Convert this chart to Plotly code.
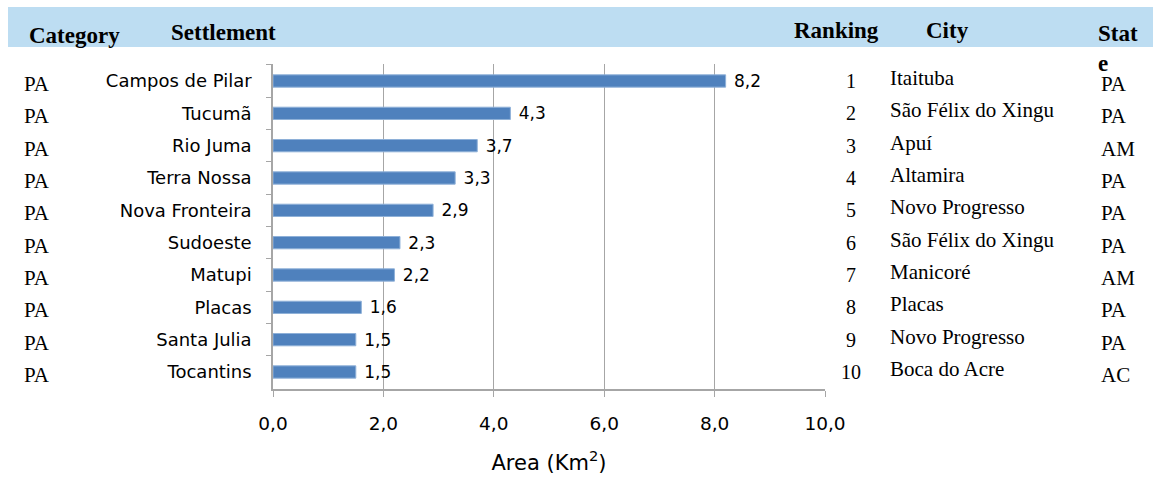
import plotly.graph_objects as go

settlements = ["Campos de Pilar", "Tucumã", "Rio Juma", "Terra Nossa", "Nova Fronteira",
               "Sudoeste", "Matupi", "Placas", "Santa Julia", "Tocantins"]
areas = [8.2, 4.3, 3.7, 3.3, 2.9, 2.3, 2.2, 1.6, 1.5, 1.5]
categories = ["PA"] * 10
rankings = [str(i) for i in range(1, 11)]
cities = ["Itaituba", "São Félix do Xingu", "Apuí", "Altamira", "Novo Progresso",
          "São Félix do Xingu", "Manicoré", "Placas", "Novo Progresso", "Boca do Acre"]
states = ["PA", "PA", "AM", "PA", "PA", "PA", "AM", "PA", "PA", "AC"]
x_ticks = [0, 2, 4, 6, 8, 10]
headers = ["Category", "Settlement", "Ranking", "City", "Stat<br>e"]

W, H = 1153, 478
L, R, T, B = 273, 825, 64, 389


def px_x(p):
    return (p - L) / (R - L)


def px_y(p):
    return (B - p) / (B - T)


sans = "DejaVu Sans"
serif = "Liberation Serif"

fig = go.Figure(go.Bar(
    x=areas, y=settlements, orientation="h",
    marker=dict(color="#4F81BD", line=dict(color="#8EB0D8", width=1)),
    texttemplate=" %{x:.1f}", textposition="outside", constraintext="none",
    textfont=dict(family=sans, size=17, color="#000000"),
    cliponaxis=False, width=0.38,
))

fig.update_layout(
    width=W, height=H, separators=", ",
    margin=dict(l=L, r=W - R, t=T, b=H - B),
    plot_bgcolor="white", paper_bgcolor="white",
    showlegend=False,
    font=dict(family=sans, size=16, color="#000000"),
)
fig.update_xaxes(
    range=[0, 10], tickvals=x_ticks, tickformat=".1f", automargin=False,
    showgrid=True, gridcolor="#A6A6A6", gridwidth=1.3,
    showline=True, linecolor="#A6A6A6", linewidth=1.5,
    ticks="outside", ticklen=6, tickcolor="#A6A6A6",
    ticklabelstandoff=11, tickfont=dict(family=sans, size=18.5),
    title=dict(text="Area (Km<sup>2</sup>)", font=dict(family=sans, size=21), standoff=22),
    zeroline=False,
)
fig.update_yaxes(
    autorange="reversed", type="category", tickson="boundaries", automargin=False,
    showline=True, linecolor="#A6A6A6", linewidth=1.5,
    ticks="outside", ticklen=5, tickcolor="#A6A6A6",
    ticklabelstandoff=16, tickfont=dict(family=sans, size=18),
    showgrid=False,
)

# header band
fig.add_shape(type="rect", xref="paper", yref="paper",
              x0=px_x(8), x1=px_x(1153), y0=px_y(47), y1=px_y(7),
              fillcolor="#BDDDF2", line=dict(width=0), layer="below")

header_pos = [(27, 35), (169, 33), (792, 31), (924, 31), (1096, 19)]
for text, (hx, hy) in zip(headers, header_pos):
    bold = "<br>".join("<b>%s</b>" % part for part in text.split("<br>"))
    fig.add_annotation(text=bold, xref="paper", yref="paper",
                       x=px_x(hx), y=px_y(hy), xanchor="left",
                       yanchor="top" if "<br>" in text else "middle",
                       showarrow=False, align="left",
                       font=dict(family=serif, size=23, color="#000000"))

for i, s in enumerate(settlements):
    fig.add_annotation(text=categories[i], xref="paper", yref="y", x=px_x(37), y=s,
                       xanchor="center", yshift=-3, showarrow=False,
                       font=dict(family=serif, size=21))
    fig.add_annotation(text=rankings[i], xref="paper", yref="y", x=px_x(851), y=s,
                       xanchor="center", yshift=0, showarrow=False,
                       font=dict(family=serif, size=20))
    fig.add_annotation(text=cities[i], xref="paper", yref="y", x=px_x(888), y=s,
                       xanchor="left", yshift=3, showarrow=False,
                       font=dict(family=serif, size=21))
    fig.add_annotation(text=states[i], xref="paper", yref="y", x=px_x(1099), y=s,
                       xanchor="left", yshift=-3, showarrow=False,
                       font=dict(family=serif, size=21))

fig.write_html("out.html")
